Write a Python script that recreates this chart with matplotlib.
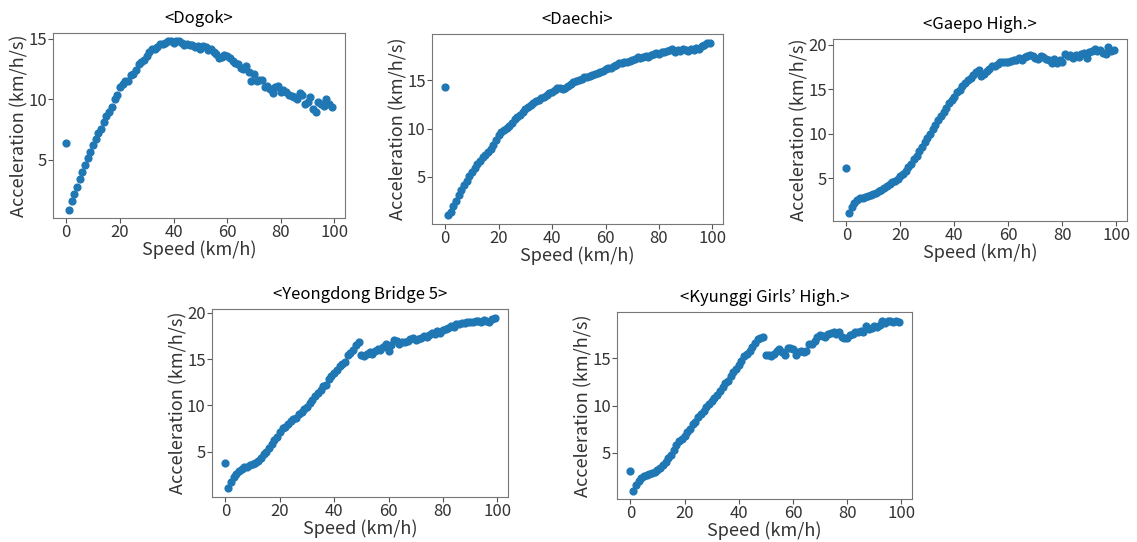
import numpy as np
import matplotlib
matplotlib.use("Agg")
import matplotlib.pyplot as plt

plt.rcParams['font.family'] = ['Noto Sans CJK KR', 'DejaVu Sans']

# speed (km/h) shared by every site
speed = np.arange(100)

# acceleration (km/h/s)
dogok = [6.4, 0.9, 1.6, 2.2, 2.8, 3.4, 4.0, 4.6, 5.2, 5.7,
         6.2, 6.7, 7.2, 7.6, 8.1, 8.6, 9.0, 9.4, 10.0, 10.4,
         11.0, 11.3, 11.5, 11.5, 12.0, 12.1, 12.4, 12.9, 13.1, 13.3,
         13.6, 13.9, 14.2, 14.2, 14.3, 14.6, 14.6, 14.7, 14.8, 14.8,
         14.7, 14.8, 14.8, 14.7, 14.5, 14.6, 14.5, 14.5, 14.3, 14.4,
         14.2, 14.4, 14.3, 14.1, 14.2, 13.9, 13.8, 13.4, 13.5, 13.7,
         13.6, 13.4, 13.2, 13.0, 12.9, 12.6, 12.5, 12.8, 12.3, 11.5,
         12.1, 11.5, 11.6, 11.6, 11.0, 11.1, 10.9, 10.5, 11.0, 11.1,
         10.6, 10.8, 10.6, 10.4, 10.3, 10.2, 10.0, 10.5, 10.4, 9.6,
         9.8, 10.2, 9.2, 9.0, 9.8, 9.6, 9.5, 10.0, 9.6, 9.4]

daechi = [14.3, 1.0, 1.4, 2.0, 2.5, 3.1, 3.6, 4.1, 4.6, 5.1,
          5.5, 5.9, 6.3, 6.6, 7.0, 7.3, 7.6, 7.9, 8.3, 8.8,
          9.3, 9.6, 9.8, 10.1, 10.3, 10.6, 11.0, 11.2, 11.4, 11.7,
          12.0, 12.2, 12.4, 12.6, 12.8, 13.0, 13.2, 13.3, 13.5, 13.7,
          13.8, 14.0, 14.2, 14.2, 14.1, 14.2, 14.4, 14.6, 14.8, 14.9,
          15.0, 15.1, 15.3, 15.3, 15.4, 15.5, 15.6, 15.8, 15.9, 16.0,
          16.2, 16.3, 16.3, 16.5, 16.6, 16.8, 16.8, 16.9, 16.9, 17.0,
          17.1, 17.2, 17.4, 17.3, 17.4, 17.5, 17.4, 17.6, 17.7, 17.8,
          17.7, 17.9, 17.9, 18.0, 18.1, 18.2, 17.9, 18.1, 18.0, 18.2,
          18.1, 18.0, 18.2, 18.1, 18.3, 18.2, 18.5, 18.7, 18.9, 18.9]

gaepo = [6.1, 1.1, 1.8, 2.2, 2.5, 2.7, 2.8, 2.9, 3.0, 3.1,
         3.2, 3.3, 3.5, 3.7, 3.9, 4.1, 4.3, 4.5, 4.7, 4.9,
         5.2, 5.5, 5.8, 6.2, 6.6, 7.1, 7.5, 8.0, 8.5, 9.0,
         9.5, 10.0, 10.5, 11.0, 11.5, 12.0, 12.4, 12.9, 13.4, 13.8,
         14.1, 14.7, 14.9, 15.3, 15.7, 16.0, 16.3, 16.6, 16.9, 17.2,
         16.5, 16.7, 17.0, 17.3, 17.6, 17.6, 17.8, 18.0, 18.0, 18.1,
         18.1, 18.2, 18.3, 18.3, 18.5, 18.3, 18.6, 18.7, 18.8, 18.7,
         18.5, 18.4, 18.7, 18.6, 18.4, 18.3, 17.9, 18.4, 17.9, 18.3,
         18.0, 18.9, 18.7, 18.8, 18.5, 18.8, 18.6, 18.9, 19.0, 18.5,
         19.2, 19.3, 19.5, 19.3, 19.4, 19.1, 18.9, 19.7, 19.3, 19.4]

yeongdong = [3.8, 1.0, 1.7, 2.2, 2.6, 2.9, 3.1, 3.3, 3.3, 3.5,
             3.6, 3.8, 4.0, 4.3, 4.7, 5.0, 5.4, 5.8, 6.2, 6.6,
             7.1, 7.5, 7.7, 8.0, 8.3, 8.5, 8.6, 9.1, 9.3, 9.6,
             9.8, 10.2, 10.6, 11.0, 11.3, 11.7, 12.1, 12.2, 12.8, 13.2,
             13.5, 13.8, 14.3, 14.5, 14.7, 15.4, 15.7, 16.0, 16.5, 16.8,
             15.4, 15.3, 15.6, 15.8, 15.6, 15.9, 16.1, 16.0, 16.3, 16.6,
             15.9, 16.5, 17.1, 17.0, 16.6, 16.8, 16.8, 17.0, 17.2, 17.3,
             17.1, 17.2, 17.3, 17.5, 17.4, 17.6, 17.8, 17.7, 18.0, 17.8,
             18.2, 18.3, 18.4, 18.6, 18.5, 18.8, 18.8, 18.9, 18.9, 19.0,
             19.0, 19.0, 19.1, 19.1, 19.0, 19.2, 19.1, 19.0, 19.3, 19.5]

kyunggi = [3.1, 1.0, 1.6, 2.0, 2.3, 2.5, 2.6, 2.7, 2.9, 3.0,
           3.2, 3.4, 3.7, 4.0, 4.4, 4.8, 5.3, 5.8, 6.2, 6.5,
           6.8, 7.2, 7.5, 8.0, 8.3, 8.8, 9.1, 9.4, 9.8, 10.2,
           10.5, 10.8, 11.1, 11.5, 12.0, 12.4, 12.6, 13.1, 13.5, 13.9,
           14.3, 14.7, 15.2, 15.5, 15.8, 16.2, 16.6, 17.0, 17.1, 17.3,
           15.4, 15.4, 15.2, 15.5, 15.8, 16.0, 15.7, 15.4, 16.1, 16.1,
           16.0, 15.4, 15.7, 15.8, 15.7, 15.8, 16.5, 16.5, 16.8, 17.3,
           17.5, 17.4, 17.3, 17.6, 17.7, 17.8, 17.6, 17.8, 17.3, 17.2,
           17.1, 17.5, 17.6, 17.8, 17.8, 17.9, 17.8, 18.4, 18.1, 18.2,
           18.4, 18.3, 18.5, 19.0, 18.7, 18.9, 18.9, 18.8, 18.9, 18.8]

titles = ['<Dogok>', '<Daechi>', '<Gaepo High.>',
          '<Yeongdong Bridge 5>', "<Kyunggi Girls\u2019 High.>"]
series = [dogok, daechi, gaepo, yeongdong, kyunggi]

W, H = 1137, 542
# axes boxes in pixels: left, top, right, bottom
boxes = [(53, 33, 345, 218),
         (432, 34, 723, 224),
         (833, 39, 1127, 221),
         (212, 309, 508, 497),
         (617, 312, 912, 499)]

fig = plt.figure(figsize=(W / 100, H / 100), dpi=100)

for title, acc, (l, t, r, b) in zip(titles, series, boxes):
    ax = fig.add_axes([l / W, (H - b) / H, (r - l) / W, (b - t) / H])
    ax.scatter(speed, acc, s=24, color='#1f77b4')
    ax.set_title(title, fontsize=12, pad=7)
    ax.set_xlabel('Speed (km/h)', fontsize=13, color='#333333', labelpad=-1)
    ax.set_ylabel('Acceleration (km/h/s)', fontsize=13, color='#333333', labelpad=0)
    ax.set_xticks([0, 20, 40, 60, 80, 100])
    ax.yaxis.set_major_locator(plt.MultipleLocator(5))
    ax.tick_params(labelsize=12, labelcolor='#333333', color='#555555', pad=1)
    for sp in ax.spines.values():
        sp.set_color('#777777')
    lo, hi = min(acc), max(acc)
    ax.set_ylim(lo - 0.05 * (hi - lo), hi + 0.05 * (hi - lo))

fig.savefig('out.png', dpi=100)
